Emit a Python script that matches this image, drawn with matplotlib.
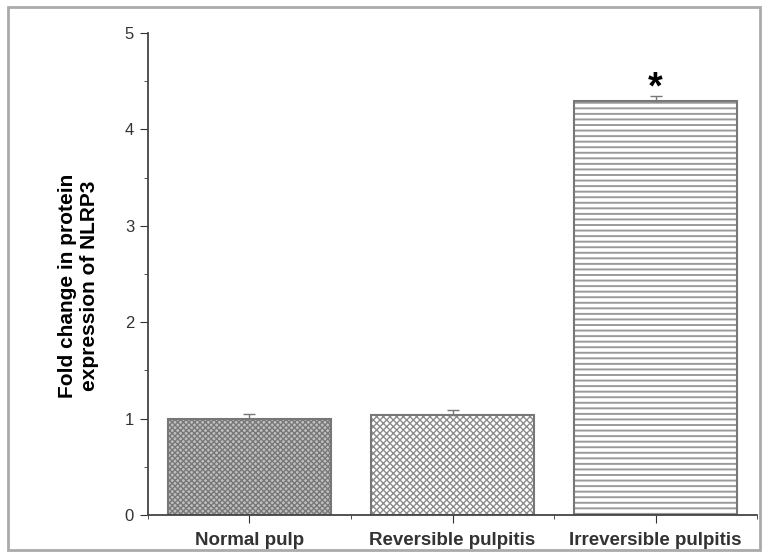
import matplotlib
matplotlib.use('Agg')
from matplotlib import pyplot as plt
from matplotlib.patches import Rectangle
from matplotlib.ticker import MultipleLocator

# данные
groups = ['Normal pulp', 'Reversible pulpitis', 'Irreversible pulpitis']
fold_change = [1.0, 1.04, 4.29]
errors = [0.05, 0.05, 0.06]
hatches = ['xxxxxx', 'xxxxx', '---']
hatch_colors = ['#787878', '#8c8c8c', '#9a9a9a']
face_colors = ['#c0c0c0', 'white', 'white']
hatch_widths = [1.0, 1.0, 1.4]

plt.rcParams['font.family'] = ['Liberation Sans', 'DejaVu Sans']

fig = plt.figure(figsize=(7.68, 5.58), dpi=100)
ax = fig.add_axes([0.1927, 0.0771, 0.793, 0.8638])

x = list(range(len(groups)))
for i in x:
    # заливка со штриховкой
    with plt.rc_context({'hatch.linewidth': hatch_widths[i]}):
        ax.bar(i, fold_change[i], width=0.8, color=face_colors[i], edgecolor=hatch_colors[i],
               hatch=hatches[i], linewidth=0, zorder=2)
    # контур столбца
    ax.bar(i, fold_change[i], width=0.8, fill=False, edgecolor='#777777',
           linewidth=1.5, zorder=2)
    ax.errorbar(i, fold_change[i], yerr=[[0], [errors[i]]], color='#777777',
                capsize=4, elinewidth=1, capthick=1, zorder=3)

# звездочка над третьим столбцом
ax.text(2, 4.32, '*', ha='center', va='baseline',
        fontsize=27, fontweight='bold')

ax.set_xlim(-0.5, 2.5)
ax.set_ylim(0, 5)
ax.set_xticks(x)
ax.set_xticklabels(groups, fontsize=13.5, fontweight='bold', color='#222222')
ax.xaxis.set_minor_locator(MultipleLocator(0.5))
ax.yaxis.set_major_locator(MultipleLocator(1))
ax.yaxis.set_minor_locator(MultipleLocator(0.5))
ax.tick_params(axis='y', labelsize=12, colors='#333333', length=6, pad=4)
ax.tick_params(axis='x', length=6, pad=6, colors='#333333')
ax.tick_params(which='minor', length=3, color='#333333')
for s in ['top', 'right']:
    ax.spines[s].set_visible(False)
for s in ['left', 'bottom']:
    ax.spines[s].set_color('#444444')
    ax.spines[s].set_linewidth(1.3)

ax.set_ylabel('Fold change in protein\nexpression of NLRP3', fontsize=15,
              fontweight='bold')
ax.yaxis.set_label_coords(-0.08, 0.475)

# серая рамка вокруг рисунка
fig.patches.append(Rectangle((0.0105, 0.0143), 0.979, 0.9731, transform=fig.transFigure,
                             fill=False, edgecolor='#aaaaaa', linewidth=2))

fig.savefig('out.png', dpi=100)
